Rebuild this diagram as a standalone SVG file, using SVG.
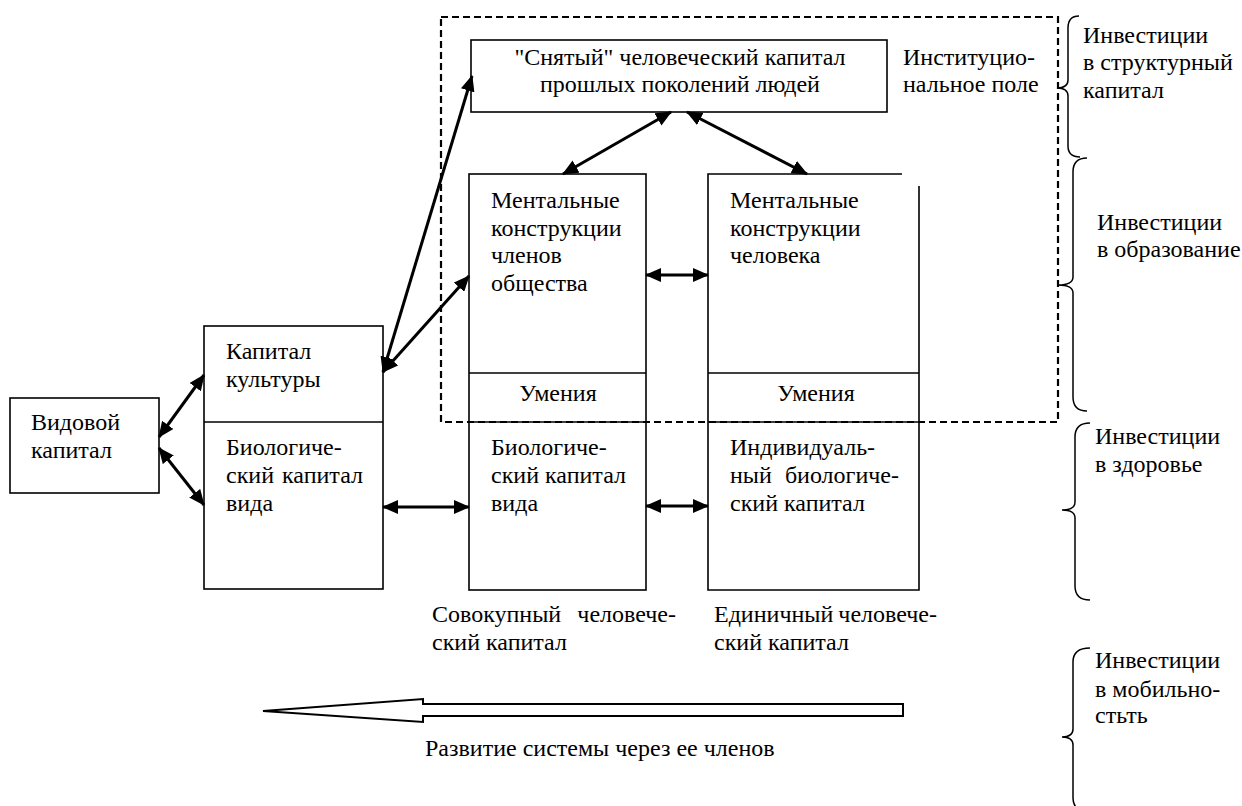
<svg xmlns="http://www.w3.org/2000/svg" width="1242" height="806" viewBox="0 0 1242 806" font-family="'Liberation Serif', 'DejaVu Serif', serif">
<style>
text{font-family:'Liberation Serif','DejaVu Serif',serif;font-size:24px;fill:#000}
.box{fill:none;stroke:#000;stroke-width:1.6}
.dash{fill:none;stroke:#000;stroke-width:2.2;stroke-dasharray:7 4}
.con{stroke:#000;stroke-width:3;fill:none;marker-start:url(#ah);marker-end:url(#ah)}
.brace{fill:none;stroke:#000;stroke-width:1.5}
.mid{text-anchor:middle}
.end{text-anchor:end}
</style>
<defs>
<marker id="ah" markerUnits="userSpaceOnUse" markerWidth="16" markerHeight="14" refX="15" refY="7" orient="auto-start-reverse">
<path d="M0,0 L16,7 L0,14 z" fill="#000"/>
</marker>
</defs>
<rect width="1242" height="806" fill="#fff"/>

<g id="institutional-field">
<rect class="dash" x="441" y="17" width="617" height="405"/>
<text x="903" y="65">Институцио-</text>
<text x="903" y="92">нальное поле</text>
</g>

<g id="node-past-generations">
<rect class="box" x="471" y="40" width="416" height="72"/>
<text class="mid" x="680" y="65">"Снятый" человеческий капитал</text>
<text class="mid" x="680" y="92">прошлых поколений людей</text>
</g>

<g id="node-species-capital">
<rect class="box" x="10" y="398" width="149" height="95"/>
<text x="31" y="430">Видовой</text>
<text x="31" y="458">капитал</text>
</g>

<g id="node-culture-bio">
<rect class="box" x="204" y="326" width="179" height="263"/>
<line class="box" x1="204" y1="422" x2="383" y2="422"/>
<text x="226" y="359">Капитал</text>
<text x="226" y="387">культуры</text>
<text x="226" y="455">Биологиче-</text>
<text x="226" y="483">ский<tspan class="end" x="363">капитал</tspan></text>
<text x="226" y="511">вида</text>
</g>

<g id="node-society">
<rect class="box" x="469" y="174" width="177" height="416"/>
<line class="box" x1="469" y1="373" x2="646" y2="373"/>
<line class="box" x1="469" y1="422" x2="646" y2="422"/>
<text x="491" y="208">Ментальные</text>
<text x="491" y="236">конструкции</text>
<text x="491" y="263">членов</text>
<text x="491" y="291">общества</text>
<text class="mid" x="558" y="401">Умения</text>
<text x="491" y="455">Биологиче-</text>
<text x="491" y="483">ский<tspan class="end" x="626">капитал</tspan></text>
<text x="491" y="511">вида</text>
</g>

<g id="node-individual">
<path class="box" d="M902,174 L708,174 L708,590 L919,590 L919,186"/>
<line class="box" x1="708" y1="373" x2="919" y2="373"/>
<line class="box" x1="708" y1="422" x2="919" y2="422"/>
<text x="730" y="208">Ментальные</text>
<text x="730" y="236">конструкции</text>
<text x="730" y="263">человека</text>
<text class="mid" x="816" y="401">Умения</text>
<text x="730" y="455">Индивидуаль-</text>
<text x="730" y="483">ный<tspan class="end" x="899">биологиче-</tspan></text>
<text x="730" y="511">ский капитал</text>
</g>

<g id="label-aggregate">
<text x="432" y="622">Совокупный</text>
<text class="end" x="676" y="622">человече-</text>
<text x="432" y="650">ский капитал</text>
</g>

<g id="label-single">
<text x="714" y="622">Единичный</text>
<text class="end" x="937" y="622">человече-</text>
<text x="714" y="650">ский капитал</text>
</g>

<g id="development-arrow">
<path d="M263,711 L423,699 L423,704 L903,704 L903,716 L423,716 L423,722 Z" fill="#fff" stroke="#000" stroke-width="2"/>
<text x="425" y="756">Развитие системы через ее членов</text>
</g>

<g id="investments">
<path class="brace" d="M1079,16 Q1068,16 1068,28 L1068,80 Q1068,88 1057,88 Q1068,88 1068,96 L1068,146 Q1068,157 1080,157"/>
<text x="1083" y="43">Инвестиции</text>
<text x="1083" y="70">в структурный</text>
<text x="1083" y="98">капитал</text>
<path class="brace" d="M1087,158 Q1073,158 1073,172 L1073,277 Q1073,285 1058,285 Q1073,285 1073,293 L1073,397 Q1073,411 1087,411"/>
<text x="1097" y="230">Инвестиции</text>
<text x="1097" y="257">в образование</text>
<path class="brace" d="M1090,423 Q1075,423 1075,437 L1075,502 Q1075,510 1062,510 Q1075,510 1075,518 L1075,586 Q1075,600 1090,600"/>
<text x="1095" y="444">Инвестиции</text>
<text x="1095" y="472">в здоровье</text>
<path class="brace" d="M1090,648 Q1073,648 1073,662 L1073,729 Q1073,737 1062,737 Q1073,737 1073,745 L1073,798 Q1073,812 1090,812"/>
<text x="1095" y="668">Инвестиции</text>
<text x="1095" y="697">в мобильно-</text>
<text x="1095" y="723">стьть</text>
</g>

<g id="connectors">
<line class="con" x1="159" y1="437" x2="204" y2="375"/>
<line class="con" x1="159" y1="448" x2="204" y2="505"/>
<line class="con" x1="383" y1="507" x2="469" y2="507"/>
<line class="con" x1="383" y1="372" x2="472" y2="76"/>
<line class="con" x1="383" y1="372" x2="469" y2="276"/>
<line class="con" x1="646" y1="275" x2="708" y2="275"/>
<line class="con" x1="646" y1="506" x2="708" y2="506"/>
<line class="con" x1="671" y1="112" x2="563" y2="174"/>
<line class="con" x1="687" y1="112" x2="807" y2="174"/>
</g>
</svg>
